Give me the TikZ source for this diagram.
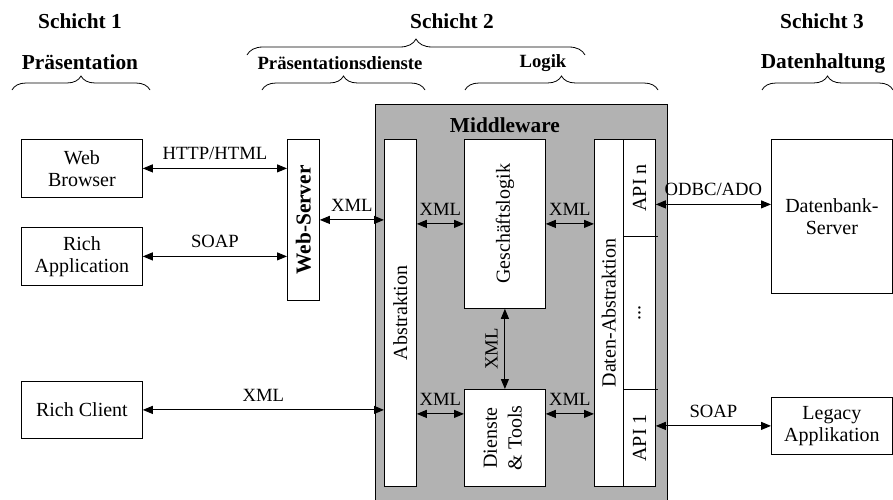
\documentclass[tikz,border=0pt]{standalone}
\usepackage{fontspec}
\setmainfont{Liberation Serif}
\usetikzlibrary{arrows.meta,decorations.pathreplacing,positioning}

\newcommand{\vtext}[1]{\rotatebox{90}{#1}}

\tikzset{
  box/.style={draw, fill=white, line width=0.6pt, inner sep=0pt, anchor=north west, align=center, font=\fontsize{15}{16.5}\selectfont},
  conn/.style={{Triangle[length=7.5pt,width=6pt]}-{Triangle[length=7.5pt,width=6pt]}, line width=0.75pt},
  lbl/.style={font=\fontsize{14}{16}\selectfont, inner sep=1pt},
  head/.style={font=\fontsize{16}{18}\selectfont\bfseries},
  subhead/.style={font=\fontsize{14}{16}\selectfont\bfseries},
  brc/.style={decorate, decoration={brace, amplitude=#1}, line width=0.6pt},
  brc/.default=10.5pt
}

\begin{document}
\begin{tikzpicture}[x=0.75pt, y=-0.75pt]
  \useasboundingbox (0,0) rectangle (893,500);

  % Schichten
  \node[head] (s1) at (80,21) {Schicht 1};
  \node[head] (s2) at (452,21) {Schicht 2};
  \node[head] (s3) at (822,21) {Schicht 3};
  \node[head] (praes) at (80,62) {Präsentation};
  \node[subhead] (pdienst) at (340,63) {Präsentationsdienste};
  \node[subhead] (logiklbl) at (543,63) {Logik};
  \node[head] (datenh) at (823,63) {Datenhaltung};

  \draw[brc=12pt] (247,55) -- (585,55);
  \draw[brc] (12,90) -- (150,90);
  \draw[brc] (262,90) -- (425,90);
  \draw[brc] (465,90) -- (658,90);
  \draw[brc] (762,90) -- (893,90);

  % Middleware
  \node[box, fill=gray!60, minimum width=219pt, minimum height=300pt] (mw) at (375,104) {};
  \node[box, minimum width=24pt, minimum height=260.25pt] (abstr) at (384,139) {\vtext{Abstraktion}};
  \node[box, minimum width=60.75pt, minimum height=126.75pt] (logik) at (464,139) {\vtext{Geschäftslogik}};
  \node[box, minimum width=60.75pt, minimum height=72.75pt] (dienste) at (464,389)
    {\vtext{\begin{tabular}{@{}c@{}}Dienste\\[2pt]\& Tools\end{tabular}}};
  \node[head, above=1pt of logik] (mwlbl) {Middleware};

  \node[box, minimum width=21.75pt, minimum height=260.25pt] (dabs) at (594,139) {\vtext{Daten-Abstraktion}};
  \node[box, minimum width=24pt, minimum height=72.75pt] (apin) at (623,139) {\vtext{API n}};
  \node[box, minimum width=24pt, minimum height=114.75pt] (apidots) at (623,236) {\vtext{...}};
  \node[box, minimum width=24pt, minimum height=72.75pt] (api1) at (623,389) {\vtext{API 1}};
  \draw[line width=0.6pt] (apidots.north west) -- ++(35,0);
  \draw[line width=0.6pt] (apidots.south west) -- ++(35,0);

  % Clients
  \node[box, minimum width=90.75pt, minimum height=43.5pt] (web) at (21,139) {Web\\Browser};
  \node[box, minimum width=90.75pt, minimum height=43.5pt] (richapp) at (21,227) {Rich\\Application};
  \node[box, minimum width=90.75pt, minimum height=42.75pt] (richcl) at (21,381) {Rich Client};
  \node[box, minimum width=24pt, minimum height=120.75pt, font=\fontsize{16}{18}\selectfont\bfseries] (websrv) at (287,139) {\vtext{Web-Server}};

  % Datenhaltung
  \node[box, minimum width=90.75pt, minimum height=115.5pt] (dbsrv) at (771,139) {Datenbank-\\Server};
  \node[box, minimum width=90.75pt, minimum height=42.75pt] (legacy) at (771,397) {Legacy\\Applikation};

  % Verbindungen
  \draw[conn] (web.east) -- (web.east -| websrv.west) node[lbl, midway, above=5pt] {HTTP/HTML};
  \draw[conn] (richapp.east) -- (richapp.east -| websrv.west) node[lbl, midway, above=5pt] {SOAP};
  \draw[conn] (websrv.east) -- (websrv.east -| abstr.west) node[lbl, midway, above=5pt] {XML};
  \draw[conn] (richcl.east) -- (richcl.east -| abstr.west) node[lbl, midway, above=5pt] {XML};

  \draw[conn] (logik.west -| abstr.east) -- (logik.west) node[lbl, midway, above=5pt] {XML};
  \draw[conn] (logik.east) -- (logik.east -| dabs.west) node[lbl, midway, above=5pt] {XML};
  \coordinate (dt) at ([yshift=18pt]dienste.west);
  \draw[conn] (dt -| abstr.east) -- (dt) node[lbl, midway, above=5pt] {XML};
  \draw[conn] (dt -| dienste.east) -- (dt -| dabs.west) node[lbl, midway, above=5pt] {XML};
  \draw[conn] (logik.south) -- (dienste.north) node[lbl, midway, rotate=90, anchor=south, inner sep=5pt] {XML};

  \coordinate (odbc) at ([yshift=9pt]dbsrv.west);
  \draw[conn] (odbc -| apin.east) -- (odbc) node[lbl, midway, above=5pt] {ODBC/ADO};
  \draw[conn] (legacy.west -| api1.east) -- (legacy.west) node[lbl, midway, above=5pt] {SOAP};
\end{tikzpicture}
\end{document}
